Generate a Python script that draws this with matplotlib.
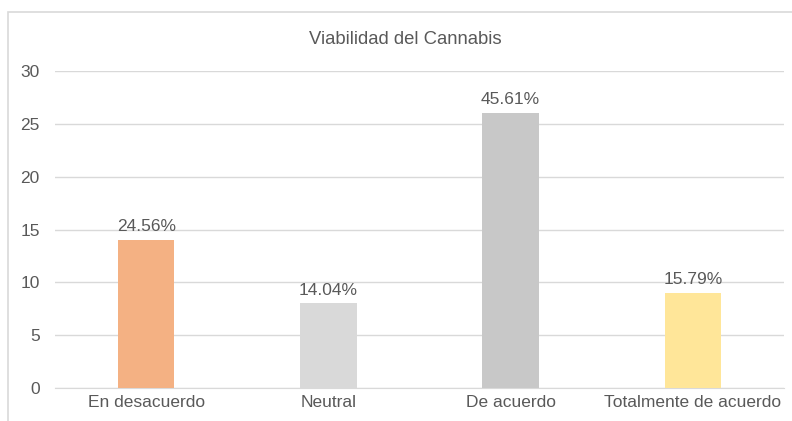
import matplotlib.pyplot as plt
from matplotlib.patches import Rectangle

categories = ['En desacuerdo', 'Neutral', 'De acuerdo', 'Totalmente de acuerdo']
counts = [14, 8, 26, 9]
pct_labels = ['24.56%', '14.04%', '45.61%', '15.79%']
colors = ['#F4B183', '#D9D9D9', '#C8C8C8', '#FFE699']

plt.rcParams['font.family'] = ['Liberation Sans', 'DejaVu Sans']
text_color = '#595959'

fig = plt.figure(figsize=(7.92, 4.21), dpi=100)
# outer chart frame (cut off at right and bottom like the screenshot)
fig.patches.append(Rectangle((8 / 792, -0.05), 1.0, 1 - 12 / 421 + 0.05,
                             transform=fig.transFigure, fill=False,
                             edgecolor='#D9D9D9', linewidth=1.2))

ax = fig.add_axes([55 / 792, 1 - 388 / 421, 729 / 792, 317 / 421])
x = range(len(categories))
bars = ax.bar(x, counts, width=0.31, color=colors, zorder=3)
for b, lab in zip(bars, pct_labels):
    ax.text(b.get_x() + b.get_width() / 2, b.get_height() + 0.55, lab,
            ha='center', va='bottom', fontsize=12.5, color=text_color)

ax.set_xlim(-0.5, len(categories) - 0.5)
ax.set_ylim(0, 30)
ax.set_yticks(range(0, 31, 5))
ax.set_xticks(list(x))
ax.set_xticklabels(categories)
ax.tick_params(axis='both', length=0, labelsize=12.5, colors=text_color)
ax.tick_params(axis='y', pad=11)
ax.tick_params(axis='x', pad=5)
ax.grid(axis='y', color='#D9D9D9', linewidth=1, zorder=0)
for s in ['top', 'right', 'left']:
    ax.spines[s].set_visible(False)
ax.spines['bottom'].set_color('#D9D9D9')
ax.set_facecolor('none')

fig.text(405 / 792, 1 - 40 / 421, 'Viabilidad del Cannabis', ha='center',
         va='center', fontsize=13.3, color=text_color)

fig.savefig('out.png', dpi=100)
